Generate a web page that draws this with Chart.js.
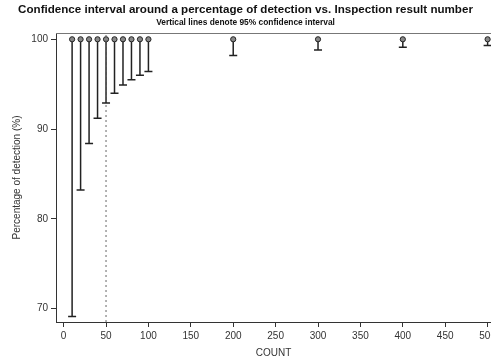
<!DOCTYPE html>
<html>
<head>
<meta charset="utf-8">
<script src="https://cdn.jsdelivr.net/npm/chart.js@4.4.1/dist/chart.umd.min.js"></script>
<style>
  html, body { margin: 0; padding: 0; background: #fff; }
  #wrap { width: 491px; height: 359px; }
</style>
</head>
<body>
<div id="wrap"><canvas id="chart"></canvas></div>
<script>
// inspection counts and percentage of detection
const counts = [10, 20, 30, 40, 50, 60, 70, 80, 90, 100, 200, 300, 400, 500];
const detection = [100, 100, 100, 100, 100, 100, 100, 100, 100, 100, 100, 100, 100, 100];
// lower end of the 95% confidence interval
const lowerCI = [69.1, 83.2, 88.4, 91.2, 92.9, 94.0, 94.9, 95.5, 96.0, 96.4, 98.2, 98.8, 99.1, 99.3];
const xTicks = [0, 50, 100, 150, 200, 250, 300, 350, 400, 450, 500];
const yTicks = [70, 80, 90, 100];
const refLineX = 50;

const axisColor = "#333";
const textColor = "#333";

// draws the error bars + top frame line
const errorBarPlugin = {
  id: "errorBars",
  beforeDatasetsDraw(chart) {
    const ctx = chart.ctx;
    const xs = chart.scales.x;
    const ys = chart.scales.y;
    const area = chart.chartArea;
    ctx.save();
    // top frame
    ctx.strokeStyle = "#777";
    ctx.lineWidth = 1;
    ctx.beginPath();
    ctx.moveTo(area.left, area.top + 0.5);
    ctx.lineTo(area.right, area.top + 0.5);
    ctx.stroke();

    ctx.strokeStyle = "#222";
    ctx.lineWidth = 1.5;
    counts.forEach((c, i) => {
      const px = xs.getPixelForValue(c);
      const top = ys.getPixelForValue(detection[i]);
      const bot = ys.getPixelForValue(lowerCI[i]);
      ctx.beginPath();
      ctx.moveTo(px, top);
      ctx.lineTo(px, bot);
      ctx.moveTo(px - 4, bot);
      ctx.lineTo(px + 4, bot);
      ctx.stroke();
    });
    ctx.restore();
  },
};

const ctx = document.getElementById("chart").getContext("2d");
new Chart(ctx, {
  type: "scatter",
  data: {
    datasets: [
      {
        label: "ref",
        type: "line",
        data: [{ x: refLineX, y: 68.5 }, { x: refLineX, y: 100.7 }],
        borderColor: "#666",
        borderWidth: 1,
        borderDash: [2, 3],
        pointRadius: 0,
      },
      {
        label: "detection",
        data: counts.map((c, i) => ({ x: c, y: detection[i] })),
        pointRadius: 2.6,
        pointBackgroundColor: "#888",
        pointBorderColor: "#222",
        pointBorderWidth: 1,
      },
    ],
  },
  options: {
    responsive: true,
    maintainAspectRatio: false,
    animation: false,
    layout: { autoPadding: false, padding: { left: 0, right: 0, top: 0, bottom: 0 } },
    plugins: {
      legend: { display: false },
      tooltip: { enabled: false },
      title: {
        display: true,
        text: "Confidence interval around a percentage of detection vs. Inspection result number",
        color: "#111",
        font: { family: "Liberation Sans, Arial", size: 11.6, weight: "bold" },
        padding: { top: 3, bottom: 0 },
      },
      subtitle: {
        display: true,
        text: "Vertical lines denote 95% confidence interval",
        color: "#111",
        font: { family: "Liberation Sans, Arial", size: 8.4, weight: "bold" },
        padding: { top: 1, bottom: 5 },
      },
    },
    scales: {
      x: {
        type: "linear",
        min: -9,
        max: 504,
        afterBuildTicks(scale) {
          scale.ticks = xTicks.map((v) => ({ value: v }));
        },
        afterFit(scale) {
          scale.height = 37;
          scale.paddingLeft = 0;
          scale.paddingRight = 0;
        },
        ticks: {
          color: textColor,
          font: { family: "Liberation Sans, Arial", size: 10 },
          padding: 3,
          maxRotation: 0,
        },
        grid: { display: true, drawOnChartArea: false, drawTicks: true, tickLength: 5, color: axisColor },
        border: { display: true, color: axisColor, width: 1 },
        title: {
          display: true,
          text: "COUNT",
          color: textColor,
          font: { family: "Liberation Sans, Arial", size: 10 },
          padding: { top: 2, bottom: 0 },
        },
      },
      y: {
        type: "linear",
        min: 68.5,
        max: 100.7,
        afterBuildTicks(scale) {
          scale.ticks = yTicks.map((v) => ({ value: v }));
        },
        afterFit(scale) {
          scale.width = 56;
          scale.paddingTop = 0;
          scale.paddingBottom = 0;
        },
        ticks: {
          color: textColor,
          font: { family: "Liberation Sans, Arial", size: 10 },
          padding: 3,
        },
        grid: { display: true, drawOnChartArea: false, drawTicks: true, tickLength: 5, color: axisColor },
        border: { display: true, color: axisColor, width: 1 },
        title: {
          display: true,
          text: "Percentage of detection (%)",
          color: textColor,
          font: { family: "Liberation Sans, Arial", size: 10 },
          padding: { top: 11, bottom: 0 },
        },
      },
    },
  },
  plugins: [errorBarPlugin],
});
</script>
</body>
</html>
